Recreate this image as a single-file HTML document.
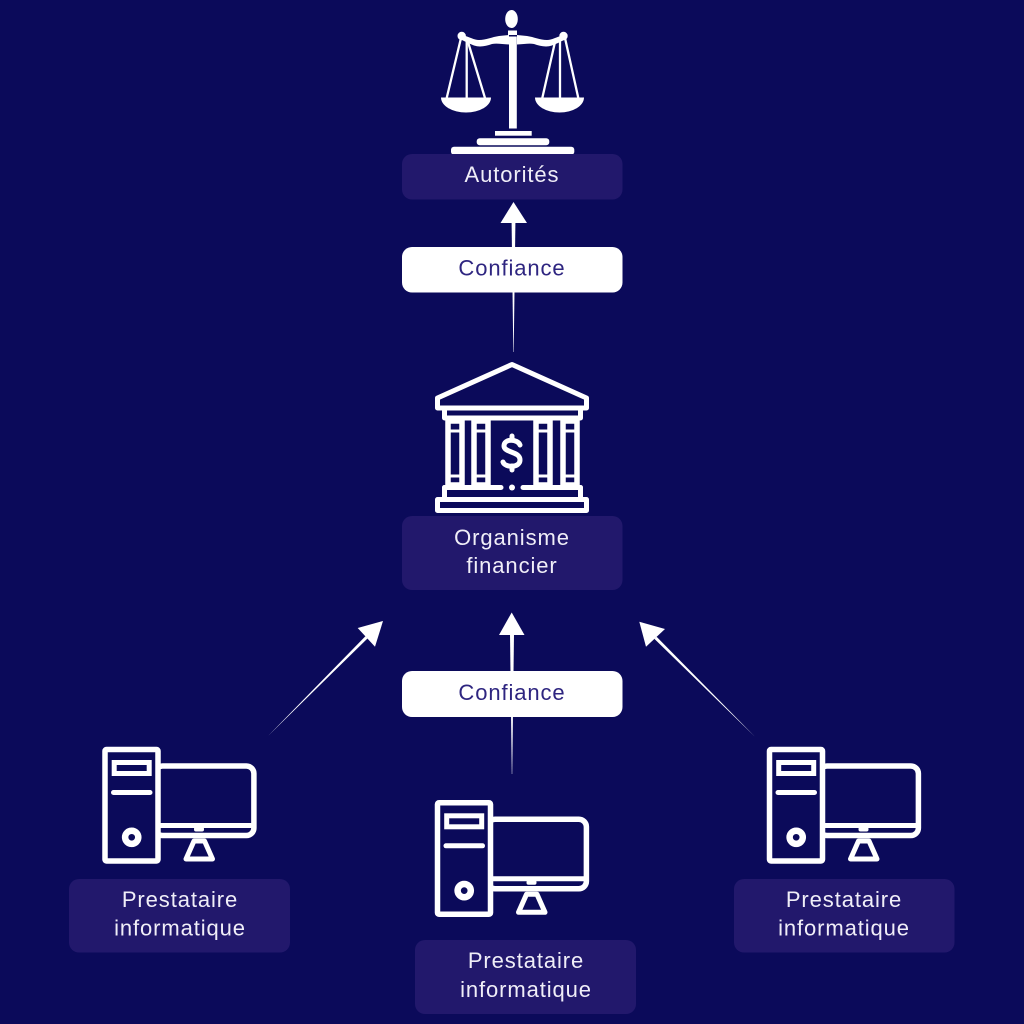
<!DOCTYPE html>
<html>
<head>
<meta charset="utf-8">
<style>
  html,body{margin:0;padding:0;background:#0b0a5a;}
  svg{display:block;}
  text{font-family:"Liberation Sans",sans-serif;font-size:22px;letter-spacing:0.9px;}
</style>
</head>
<body>
<svg width="1024" height="1024" viewBox="0 0 1024 1024" xmlns="http://www.w3.org/2000/svg">
  <rect x="0" y="0" width="1024" height="1024" fill="#0b0a5a"/>

  <!-- ===== Scales icon ===== -->
  <g fill="#fff">
    <ellipse cx="511.5" cy="19" rx="6.3" ry="9"/>
    <rect x="508" y="30.5" width="9" height="4.5"/>
    <rect x="509" y="36.5" width="7.8" height="92"/>
    <!-- beam left -->
    <path d="M462,35 C470,37 474,40 479,40 C486,40 492,37 499,36 L509,35 L509,44.5 C502,44 496,43 492,44 C486,46 480,47.5 474,45.5 C470,44 466,42 462,40 Z"/>
    <!-- beam right -->
    <path d="M564,35 C556,37 552,40 547,40 C540,40 534,37 527,36 L517,35 L517,44.5 C524,44 530,43 534,44 C540,46 546,47.5 552,45.5 C556,44 560,42 564,40 Z"/>
    <circle cx="461.7" cy="36" r="4.2"/>
    <circle cx="563.5" cy="36" r="4.2"/>
    <!-- pans -->
    <path d="M441,97.5 L491,97.5 A25,15 0 0 1 441,97.5 Z"/>
    <path d="M535,97.5 L584,97.5 A24.5,15 0 0 1 535,97.5 Z"/>
    <!-- base -->
    <rect x="495" y="131" width="36.7" height="4.7"/>
    <rect x="476.7" y="138.3" width="72.6" height="7" rx="3"/>
    <rect x="451" y="146.7" width="123.3" height="8" rx="3"/>
  </g>
  <g stroke="#fff" stroke-width="2.3" fill="none" stroke-linecap="round">
    <line x1="461" y1="38" x2="446.7" y2="98"/>
    <line x1="466.7" y1="42" x2="466.7" y2="98"/>
    <line x1="468" y1="42" x2="485" y2="98"/>
    <line x1="565" y1="38" x2="578.3" y2="98"/>
    <line x1="560" y1="42" x2="560" y2="98"/>
    <line x1="555" y1="42" x2="542.3" y2="98"/>
  </g>

  <!-- ===== Top arrow ===== -->
  <polygon points="511.6,223 515.4,223 513.7,352 513.3,352" fill="#fff"/>
  <polygon points="513.5,202 527,223 500.5,223" fill="#fff"/>

  <!-- Autorités box -->
  <rect x="402" y="154" width="220.5" height="45.5" rx="10" fill="#22186c"/>
  <text x="512" y="182" text-anchor="middle" fill="#f0eef8">Autorités</text>

  <!-- Confiance box 1 -->
  <rect x="402" y="247" width="220.5" height="45.5" rx="10" fill="#ffffff"/>
  <text x="512" y="275.5" text-anchor="middle" fill="#2e2580">Confiance</text>

  <!-- ===== Bank icon ===== -->
  <g stroke="#fff" stroke-width="5" fill="none" stroke-linejoin="round" stroke-linecap="round">
    <path d="M437.5,408 L437.5,398 L512,364.5 L586.5,398 L586.5,408 Z"/>
    <rect x="444.5" y="408" width="136" height="10"/>
    <path d="M444.5,487.5 V499.5 H580.5 V487.5"/>
    <line x1="444.5" y1="487.5" x2="501" y2="487.5"/>
    <line x1="523" y1="487.5" x2="580.5" y2="487.5"/>
    <rect x="437.5" y="499.5" width="149" height="11"/>
    <!-- $ -->
    <path d="M520,445 C518,439 504,438 504,446 C504,453 520,451 520,460 C520,468 505,468 503,462"/>
    <line x1="512" y1="436" x2="512" y2="440"/>
    <line x1="512" y1="466" x2="512" y2="470"/>
  </g>
  <g stroke="#fff" stroke-width="5.5" fill="none">
    <rect x="448" y="421" width="14" height="64"/>
    <rect x="474" y="421" width="14" height="64"/>
    <rect x="536" y="421" width="14" height="64"/>
    <rect x="563" y="421" width="14" height="64"/>
  </g>
  <g stroke="#fff" stroke-width="3" fill="none">
    <line x1="448" y1="431" x2="462" y2="431"/>
    <line x1="474" y1="431" x2="488" y2="431"/>
    <line x1="536" y1="431" x2="550" y2="431"/>
    <line x1="563" y1="431" x2="577" y2="431"/>
    <line x1="448" y1="476" x2="462" y2="476"/>
    <line x1="474" y1="476" x2="488" y2="476"/>
    <line x1="536" y1="476" x2="550" y2="476"/>
    <line x1="563" y1="476" x2="577" y2="476"/>
  </g>
  <circle cx="512" cy="487.5" r="3" fill="#fff"/>

  <!-- Organisme financier box -->
  <rect x="402" y="516" width="220.5" height="74" rx="10" fill="#22186c"/>
  <text x="512" y="545" text-anchor="middle" fill="#f0eef8">Organisme</text>
  <text x="512" y="573" text-anchor="middle" fill="#f0eef8">financier</text>

  <!-- ===== Middle arrow ===== -->
  <polygon points="510,634 514,634 512.2,774 511.8,774" fill="#fff"/>
  <polygon points="511.7,612.5 524.5,635 499,635" fill="#fff"/>

  <!-- Confiance box 2 -->
  <rect x="402" y="671" width="220.5" height="46" rx="10" fill="#ffffff"/>
  <text x="512" y="700" text-anchor="middle" fill="#2e2580">Confiance</text>

  <!-- ===== Diagonal arrows ===== -->
  <polygon points="268,736 367.6,638.4 365.4,636.2" fill="#fff"/>
  <polygon points="383,621 357.7,628 375,646.7" fill="#fff"/>
  <polygon points="755,736.7 656.6,636.7 654.4,638.9" fill="#fff"/>
  <polygon points="639.3,621.7 665,629 646,646.7" fill="#fff"/>

  <!-- ===== Computer icons ===== -->
  <defs>
    <g id="pc">
      <rect x="155" y="766" width="98.9" height="69.5" rx="7.5" fill="none" stroke="#fff" stroke-width="5.5"/>
      <line x1="158" y1="825.5" x2="254" y2="825.5" stroke="#fff" stroke-width="5"/>
      <rect x="194" y="827" width="10" height="4.5" rx="2" fill="#fff"/>
      <polygon points="194,841 204.5,841 212.5,859 186,859" fill="none" stroke="#fff" stroke-width="5" stroke-linejoin="round"/>
      <rect x="105" y="749.5" width="53" height="111.5" rx="1.5" fill="#0b0a5a" stroke="#fff" stroke-width="5.5"/>
      <rect x="114.2" y="762.5" width="35" height="11" fill="none" stroke="#fff" stroke-width="5"/>
      <line x1="113.5" y1="792.5" x2="150" y2="792.5" stroke="#fff" stroke-width="5" stroke-linecap="round"/>
      <circle cx="131.7" cy="837.3" r="6.6" fill="none" stroke="#fff" stroke-width="6.5"/>
    </g>
  </defs>
  <use href="#pc"/>
  <use href="#pc" transform="translate(332.5,53.3)"/>
  <use href="#pc" transform="translate(664.5,0)"/>

  <!-- Prestataire boxes -->
  <rect x="69" y="879" width="221" height="73.5" rx="10" fill="#22186c"/>
  <text x="180" y="907" text-anchor="middle" fill="#f0eef8">Prestataire</text>
  <text x="180" y="935.5" text-anchor="middle" fill="#f0eef8">informatique</text>

  <rect x="415" y="940" width="221" height="74" rx="10" fill="#22186c"/>
  <text x="526" y="968" text-anchor="middle" fill="#f0eef8">Prestataire</text>
  <text x="526" y="997" text-anchor="middle" fill="#f0eef8">informatique</text>

  <rect x="734" y="879" width="220.5" height="73.5" rx="10" fill="#22186c"/>
  <text x="844" y="907" text-anchor="middle" fill="#f0eef8">Prestataire</text>
  <text x="844" y="935.5" text-anchor="middle" fill="#f0eef8">informatique</text>
</svg>
</body>
</html>
